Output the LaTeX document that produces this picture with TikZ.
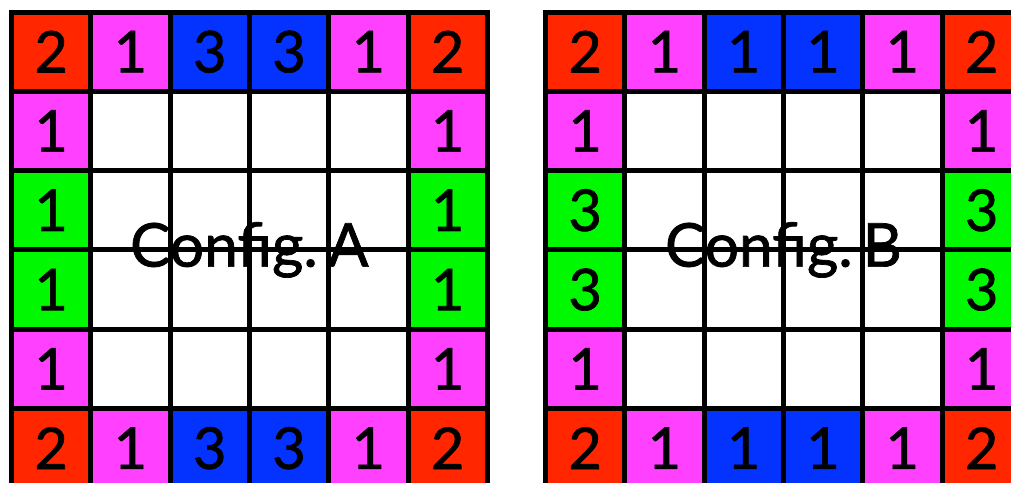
\documentclass[tikz,border=0pt]{standalone}
\usepackage{fontspec}
\setmainfont{Lato}
\newfontfamily\heavier{Lato}[FakeBold=1.2]
\definecolor{cred}{HTML}{FF2600}
\definecolor{cmag}{HTML}{FF40FF}
\definecolor{cblue}{HTML}{0433FF}
\definecolor{cgreen}{HTML}{00F900}
\tikzset{
  cell/.style={minimum width=3.965cm, minimum height=3.965cm, inner sep=0pt, outer sep=0pt},
  gridline/.style={line width=0.25cm, line cap=rect, black},
  title/.style={inner sep=0pt, font=\heavier\fontsize{86}{86}\selectfont},
}
\newcommand{\dig}[1]{\raisebox{-0.15cm}{\heavier\fontsize{82}{82}\selectfont #1}}
\begin{document}
\begin{tikzpicture}[x=0.05cm,y=-0.05cm]
\fill[white] (0,0) rectangle (1011,482);
\useasboundingbox (0,0) rectangle (1011,482);
\foreach \g/\ox/\m/\s in {A/11.5/3/1, B/545.5/1/3} {
  \foreach \r in {0,5} {
    \foreach \c/\col/\d in {0/cred/2,1/cmag/1,2/cblue/\m,3/cblue/\m,4/cmag/1,5/cred/2}
      \node[cell,fill=\col] (\g-\r-\c) at ({\ox+(\c+0.5)*79.3},{12+(\r+0.5)*79.3}) {\dig{\d}};
  }
  \foreach \c in {0,5} {
    \foreach \r/\col/\d in {1/cmag/1,2/cgreen/\s,3/cgreen/\s,4/cmag/1}
      \node[cell,fill=\col] (\g-\r-\c) at ({\ox+(\c+0.5)*79.3},{12+(\r+0.5)*79.3}) {\dig{\d}};
  }
  \node[title] (\g-title) at ({\ox+3*79.3},{12+3*79.3}) {Config.\,\g};
  \foreach \i in {0,...,6} {
    \draw[gridline] ({\ox+\i*79.3},12) -- ({\ox+\i*79.3},{12+6*79.3});
    \draw[gridline] (\ox,{12+\i*79.3}) -- ({\ox+6*79.3},{12+\i*79.3});
  }
}
\end{tikzpicture}
\end{document}
